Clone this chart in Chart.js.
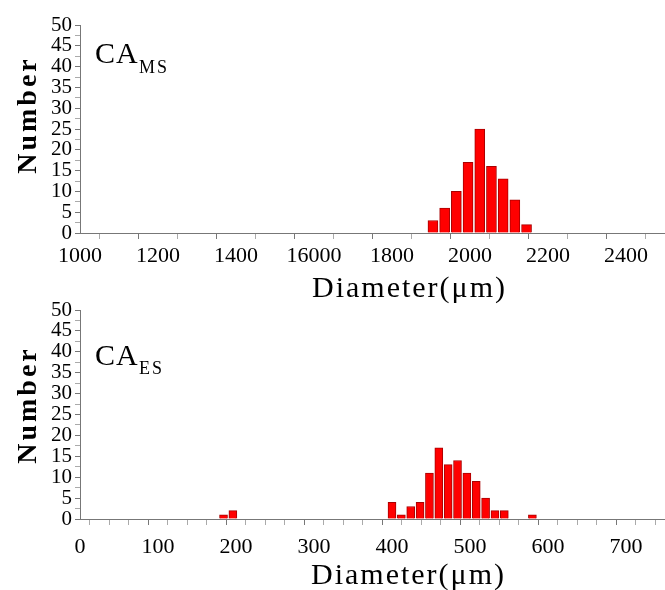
<!DOCTYPE html>
<html lang="en">
<head>
<meta charset="UTF-8">
<title>Diameter distribution</title>
<script src="https://cdn.jsdelivr.net/npm/chart.js"></script>
<style>
  body { margin: 0; background: #fff; width: 665px; height: 590px; position: relative; overflow: hidden; font-family: "Liberation Serif", serif; color: #000; }
  .panel { position: absolute; left: 0; }
  #topChart { top: 0; }
  #bottomChart { top: 290px; }
  .tag { position: absolute; font-size: 30px; line-height: 30px; letter-spacing: 1px; }
  .tag-sub { position: absolute; font-size: 18px; line-height: 18px; letter-spacing: 2px; }
  .xtitle { position: absolute; font-size: 30px; line-height: 30px; letter-spacing: 2px; white-space: nowrap; }
  .ytitle { position: absolute; font-size: 28px; line-height: 28px; font-weight: bold; letter-spacing: 3px;
            white-space: nowrap; transform: translate(-50%, -50%) rotate(-90deg); }
</style>
</head>
<body>
<canvas id="topChart" class="panel" width="665" height="305"></canvas>
<canvas id="bottomChart" class="panel" width="665" height="300"></canvas>

<div class="tag" style="left:95px;top:38px">CA</div>
<div class="tag-sub" style="left:139px;top:58px">MS</div>
<div class="ytitle" style="left:27px;top:115px">Number</div>
<div class="xtitle" style="left:312px;top:272px">Diameter(μm)</div>

<div class="tag" style="left:95px;top:340px">CA</div>
<div class="tag-sub" style="left:139px;top:359px">ES</div>
<div class="ytitle" style="left:27px;top:405px">Number</div>
<div class="xtitle" style="left:311px;top:559px">Diameter(μm)</div>

<script>
// bin centres (um) and counts
const msCenters = [1905, 1935, 1965, 1995, 2025, 2055, 2085, 2115, 2145];
const msCounts = [3, 6, 10, 17, 25, 16, 13, 8, 2];
const msTickLabels = ['1000', '1200', '1400', '16000', '1800', '2000', '2200', '2400'];

const esCenters = [184, 196, 400, 412, 424, 436, 448, 460, 472, 484, 496, 508, 520, 532, 544, 580];
const esCounts = [1, 2, 4, 1, 3, 4, 11, 17, 13, 14, 11, 9, 5, 2, 2, 1];
const esTickLabels = ['0', '100', '200', '300', '400', '500', '600', '700'];

const yTickLabels = ['0', '5', '10', '15', '20', '25', '30', '35', '40', '45', '50'];

const SERIF = "'Liberation Serif', 'Times New Roman', serif";
const AXIS_COLOR = '#777';

function buildChart(canvasId, centers, counts, cfg) {
    const points = centers.map((c, i) => ({ x: c, y: counts[i] }));
    return new Chart(document.getElementById(canvasId), {
        type: 'bar',
        data: {
            datasets: [{
                data: points,
                backgroundColor: '#ff0000',
                borderColor: '#a80000',
                borderWidth: 1,
                barThickness: cfg.barWidth
            }]
        },
        options: {
            responsive: false,
            animation: false,
            layout: { padding: { top: cfg.padTop, right: 0, bottom: 0, left: 0 } },
            plugins: { legend: { display: false }, tooltip: { enabled: false } },
            scales: {
                x: {
                    type: 'linear',
                    offset: false,
                    min: cfg.xMin,
                    max: cfg.xMax,
                    afterFit: s => {
                        s.height = cfg.xAxisHeight;
                        s.paddingLeft = 0;
                        s.paddingRight = 0;
                    },
                    border: { display: true, color: AXIS_COLOR, width: 1 },
                    grid: {
                        drawOnChartArea: false,
                        tickLength: 6,
                        color: c => (c.tick && (c.tick.value - cfg.xMin) % cfg.labelStep === 0) ? AXIS_COLOR : '#aaa'
                    },
                    ticks: {
                        stepSize: cfg.xStep,
                        autoSkip: false,
                        maxRotation: 0,
                        minRotation: 0,
                        padding: cfg.tickPad,
                        color: '#000',
                        font: { family: SERIF, size: 22 },
                        callback: v => {
                            const i = (v - cfg.xMin) / cfg.labelStep;
                            return Number.isInteger(i) && i < cfg.labels.length ? cfg.labels[i] : '';
                        }
                    },
                    title: { display: false }
                },
                y: {
                    min: 0,
                    max: 50,
                    afterFit: s => { s.width = 80; },
                    border: { display: true, color: AXIS_COLOR, width: 1 },
                    grid: {
                        drawOnChartArea: false,
                        tickLength: 5,
                        color: c => (c.tick && c.tick.value % 5 === 0) ? AXIS_COLOR : '#aaa'
                    },
                    ticks: {
                        stepSize: 2.5,
                        autoSkip: false,
                        padding: 3,
                        color: '#000',
                        font: { family: SERIF, size: 21 },
                        callback: v => (v % 5 === 0 ? yTickLabels[v / 5] : '')
                    },
                    title: { display: false }
                }
            }
        }
    });
}

buildChart('topChart', msCenters, msCounts, {
    xMin: 1000, xMax: 2500, xStep: 100, labelStep: 200, labels: msTickLabels,
    barWidth: 10, padTop: 25, xAxisHeight: 72, tickPad: 4
});

buildChart('bottomChart', esCenters, esCounts, {
    xMin: 0, xMax: 750, xStep: 25, labelStep: 100, labels: esTickLabels,
    barWidth: 8, padTop: 20, xAxisHeight: 71, tickPad: 9
});
</script>
</body>
</html>
